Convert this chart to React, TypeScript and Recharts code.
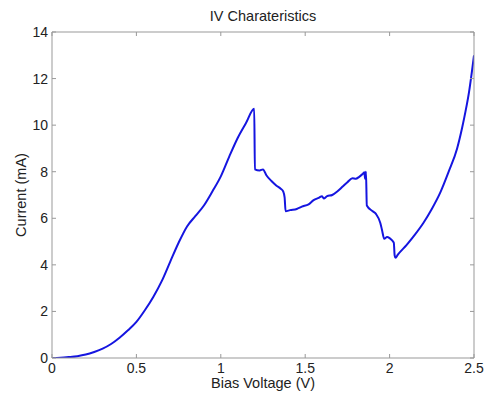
import { LineChart, Line, XAxis, YAxis, Label } from "recharts";

const voltage = [
  0, 0.05, 0.1, 0.15, 0.2, 0.25, 0.3, 0.35, 0.4, 0.45, 0.5, 0.55, 0.6, 0.65, 0.7, 0.75, 0.8,
  0.85, 0.9, 0.95, 1.0, 1.05, 1.1, 1.15, 1.198, 1.202, 1.23, 1.25, 1.27, 1.3, 1.33, 1.355,
  1.37, 1.378, 1.384, 1.41, 1.45, 1.48, 1.52, 1.55, 1.58, 1.6, 1.61, 1.63, 1.66, 1.69, 1.72,
  1.75, 1.78, 1.8, 1.82, 1.84, 1.85, 1.855, 1.86, 1.865, 1.9, 1.92, 1.945, 1.955, 1.968,
  1.985, 2.0, 2.015, 2.025, 2.03, 2.035, 2.05, 2.1, 2.15, 2.2, 2.25, 2.3, 2.35, 2.4, 2.43,
  2.45, 2.47, 2.5,
];
const current = [
  0, 0.01, 0.04, 0.08, 0.15, 0.26, 0.4, 0.6, 0.87, 1.19, 1.55, 2.05, 2.62, 3.3, 4.13, 4.95, 5.65,
  6.1, 6.55, 7.15, 7.8, 8.65, 9.45, 10.1, 10.7, 8.1, 8.05, 8.1, 7.85, 7.6, 7.4, 7.27,
  7.15, 6.9, 6.3, 6.35, 6.4, 6.5, 6.6, 6.78, 6.88, 6.95, 6.85, 6.95, 7.0, 7.15, 7.35,
  7.55, 7.72, 7.7, 7.78, 7.9, 7.98, 7.7, 8.0, 6.55, 6.3, 6.18, 5.8, 5.5, 5.12,
  5.2, 5.15, 5.05, 4.95, 4.4, 4.3, 4.45, 4.85, 5.3, 5.8, 6.4, 7.1, 8.0, 9.0, 9.9,
  10.6, 11.4, 13.0,
];

const xTicks = [0, 0.5, 1, 1.5, 2, 2.5];
const yTicks = [0, 2, 4, 6, 8, 10, 12, 14];

const data = voltage.map((v, i) => ({ v, i: current[i] }));

const FONT = "'Liberation Sans', Arial, sans-serif";
const AXIS = "#999";
const TEXT = "#222";

export default function App() {
  return (
    <div style={{ position: "absolute", left: 0, top: 0, background: "#fff" }}>
      <LineChart
        width={491}
        height={394}
        data={data}
        margin={{ top: 31, right: 16, bottom: 16, left: 12 }}
        style={{ fontFamily: FONT }}
      >
        <XAxis
          dataKey="v"
          type="number"
          domain={[0, 2.5]}
          ticks={xTicks}
          allowDataOverflow
          height={20}
          stroke={AXIS}
          tickSize={-4}
          tickMargin={9}
          tick={{ fill: TEXT, fontSize: 14 }}
        >
          <Label value="Bias Voltage (V)" position="bottom" offset={0} fill={TEXT} fontSize={14.5} />
        </XAxis>
        <XAxis
          xAxisId="top"
          dataKey="v"
          orientation="top"
          type="number"
          domain={[0, 2.5]}
          ticks={xTicks}
          allowDataOverflow
          height={1}
          stroke={AXIS}
          tickSize={-4}
          tick={() => <g />}
        >
          <Label value="IV Charateristics" position="top" offset={10} fill={TEXT} fontSize={14.5} />
        </XAxis>
        <YAxis
          type="number"
          domain={[0, 14]}
          ticks={yTicks}
          allowDataOverflow
          width={40}
          stroke={AXIS}
          tickSize={-4}
          tickMargin={8}
          tick={{ fill: TEXT, fontSize: 14 }}
        >
          <Label
            value="Current (mA)"
            angle={-90}
            position="insideLeft"
            offset={9}
            fill={TEXT}
            fontSize={14.5}
            style={{ textAnchor: "middle" }}
          />
        </YAxis>
        <YAxis
          yAxisId="right"
          orientation="right"
          type="number"
          domain={[0, 14]}
          ticks={yTicks}
          allowDataOverflow
          width={1}
          stroke={AXIS}
          tickSize={-4}
          tick={() => <g />}
        />
        {/* invisible series so the top and right frame axes get drawn */}
        <Line
          xAxisId="top"
          yAxisId="right"
          dataKey="i"
          stroke="none"
          dot={false}
          activeDot={false}
          isAnimationActive={false}
        />
        <Line
          type="monotone"
          dataKey="i"
          stroke="#1515e0"
          strokeWidth={2}
          dot={false}
          activeDot={false}
          isAnimationActive={false}
        />
      </LineChart>
    </div>
  );
}
